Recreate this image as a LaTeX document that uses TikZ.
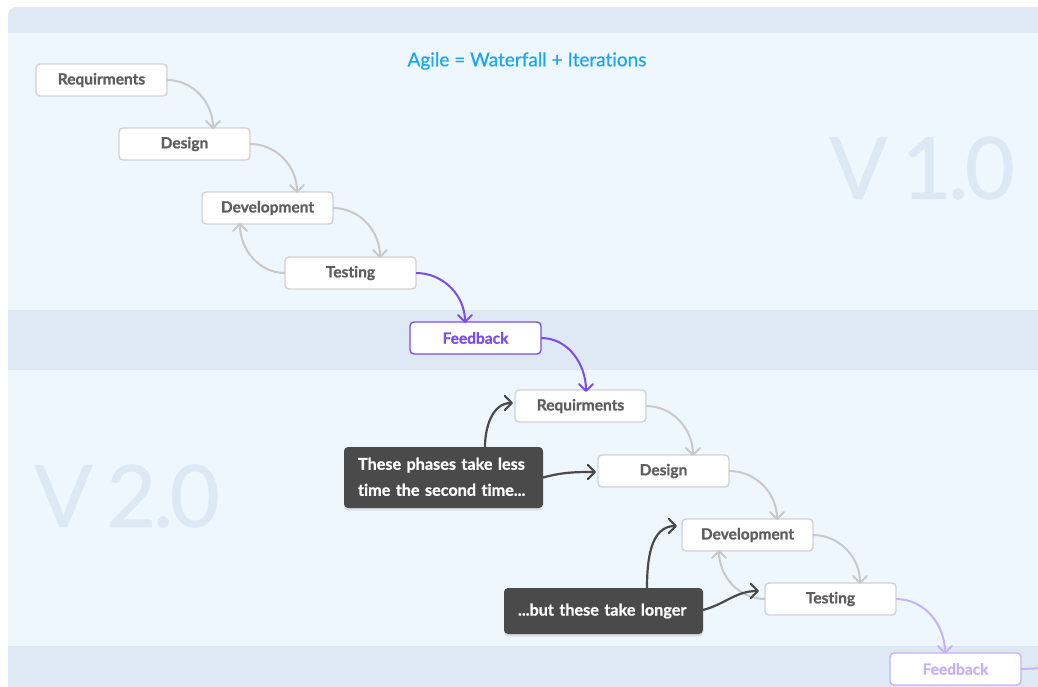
\documentclass[tikz,border=0pt]{standalone}
\usepackage{fontspec}
\setmainfont{Lato}[Ligatures=NoCommon, BoldFeatures={FakeBold=0.9}]
\newfontfamily\headfont{Lato}[Ligatures=NoCommon, FakeBold=0.5]
\newfontfamily\verfont{Lato}[FakeBold=0.6, LetterSpace=-4]
\usetikzlibrary{arrows.meta,shadows}

\definecolor{pagewhite}{HTML}{FFFFFF}
\definecolor{panelbg}{HTML}{EEF6FE}
\definecolor{bandbg}{HTML}{DEE9F5}
\definecolor{boxline}{HTML}{D2D2D2}
\definecolor{boxtext}{HTML}{5E5E5E}
\definecolor{flowgray}{HTML}{C9C9C9}
\definecolor{fbpurple}{HTML}{7B4CEE}
\definecolor{fblight}{HTML}{C6B2F6}
\definecolor{notebg}{HTML}{4A4A4A}
\definecolor{titleblue}{HTML}{1AA7EC}
\definecolor{bigver}{HTML}{DCE8F4}

\tikzset{
  phase/.style={draw=boxline, fill=white, line width=1.4pt, rounded corners=4pt,
    minimum width=131pt, minimum height=32pt, inner sep=0pt, outer sep=0pt,
    text=boxtext, font=\bfseries\fontsize{15.5}{18}\selectfont},
  fbbox/.style={phase, draw=fbpurple, text=fbpurple},
  fbfaint/.style={phase, draw=fblight, text=fblight},
  note/.style={fill=notebg, rounded corners=4pt, inner xsep=14pt, inner ysep=0pt,
    outer sep=0pt, text width=171pt, align=left, text=white,
    font=\bfseries\fontsize{16.2}{26}\selectfont, minimum width=199pt,
    drop shadow={opacity=0.18, shadow xshift=0pt, shadow yshift=-2.5pt}},
  tipbarb/.tip={Straight Barb[length=7pt,width=14pt,round]},
  flow/.style={draw=flowgray, line width=2pt, -tipbarb},
  fbflow/.style={draw=fbpurple, line width=2pt, -tipbarb},
  fbfaintflow/.style={draw=fblight, line width=2pt, -tipbarb},
  noteflow/.style={draw=notebg, line width=2.2pt, -tipbarb},
  version/.style={text=bigver, font=\verfont\fontsize{86}{90}\selectfont, inner sep=0pt},
}

\begin{document}
\begin{tikzpicture}[x=1pt, y=-1pt]
  \clip (0,0) rectangle (1038,686);
  \fill[pagewhite] (0,0) rectangle (1038,686);

  % release bands and panels
  \fill[bandbg, rounded corners=8pt] (8,7) rectangle (1070,720);
  \fill[panelbg] (8,33) rectangle (1070,310);
  \fill[panelbg] (8,370) rectangle (1070,646);

  % version watermarks and heading
  \node[version] (v1) at (922,168) {V\hspace{14pt}1.0};
  \node[version] (v2) at (127,496) {V\hspace{14pt}2.0};
  \node[text=titleblue, font=\headfont\fontsize{19}{22}\selectfont] (title) at (527,61)
    {Agile = Waterfall + Iterations};

  % first iteration
  \node[phase] (req1) at (101.5,80) {Requirments};
  \node[phase] (des1) at (184.5,144) {Design};
  \node[phase] (dev1) at (267.5,208) {Development};
  \node[phase] (tst1) at (350.5,273) {Testing};
  \node[fbbox] (fb1) at (475.5,338) {Feedback};

  % second iteration
  \node[phase] (req2) at (580.5,406) {Requirments};
  \node[phase] (des2) at (663.5,471) {Design};
  \node[phase] (dev2) at (747.5,535) {Development};
  \node[phase] (tst2) at (830.5,599) {Testing};
  \node[fbfaint] (fb2) at (955.5,669) {Feedback};
  \coordinate (fbout) at (1045,668);

  % callouts
  \node[note, minimum height=61pt] (n1) at (443.5,477.5)
    {\raisebox{1.5pt}{These phases take less}\\\raisebox{1.5pt}{time the second time...}};
  \node[note, minimum height=46pt] (n2) at (603.5,611)
    {...but these take longer};

  % waterfall steps
  \draw[flow] (req1.east) to[out=0,in=90] ([xshift=94pt,yshift=-1pt]des1.north west);
  \draw[flow] (des1.east) to[out=0,in=90] ([xshift=95pt,yshift=-1pt]dev1.north west);
  \draw[flow] (dev1.east) to[out=0,in=90] ([xshift=95pt,yshift=-1pt]tst1.north west);
  \draw[flow] (tst1.west) to[out=180,in=-90] ([xshift=38pt,yshift=1pt]dev1.south west);
  \draw[fbflow] (tst1.east) to[out=0,in=90] ([xshift=55pt,yshift=-1pt]fb1.north west);
  \draw[fbflow] (fb1.east) to[out=0,in=90] ([xshift=71pt,yshift=-2pt]req2.north west);

  \draw[flow] (req2.east) to[out=0,in=90] ([xshift=95pt,yshift=-1pt]des2.north west);
  \draw[flow] (des2.east) to[out=0,in=90] ([xshift=95pt,yshift=-1pt]dev2.north west);
  \draw[flow] (dev2.east) to[out=0,in=90] ([xshift=95pt,yshift=-1pt]tst2.north west);
  \draw[flow] (tst2.west) to[out=180,in=-90] ([xshift=37pt,yshift=1pt]dev2.south west);
  \draw[fbfaintflow] (tst2.east) to[out=0,in=90] ([xshift=55pt,yshift=-1pt]fb2.north west);
  \draw[draw=fblight, line width=2pt] (fb2.east) -- (fbout);

  % callout pointers
  \draw[noteflow] ([xshift=141pt]n1.north west) to[out=90,in=180] ([xshift=-2pt,yshift=3pt]req2.west);
  \draw[noteflow] ([yshift=0pt]n1.east) to[out=15,in=180] ([xshift=-2pt,yshift=-1pt]des2.west);
  \draw[noteflow] ([xshift=143pt]n2.north west) to[out=90,in=180] ([xshift=-5pt,yshift=9pt]dev2.west);
  \draw[noteflow] ([yshift=1pt]n2.east) to[out=15,in=180] ([xshift=-6pt,yshift=8pt]tst2.west);
\end{tikzpicture}
\end{document}
